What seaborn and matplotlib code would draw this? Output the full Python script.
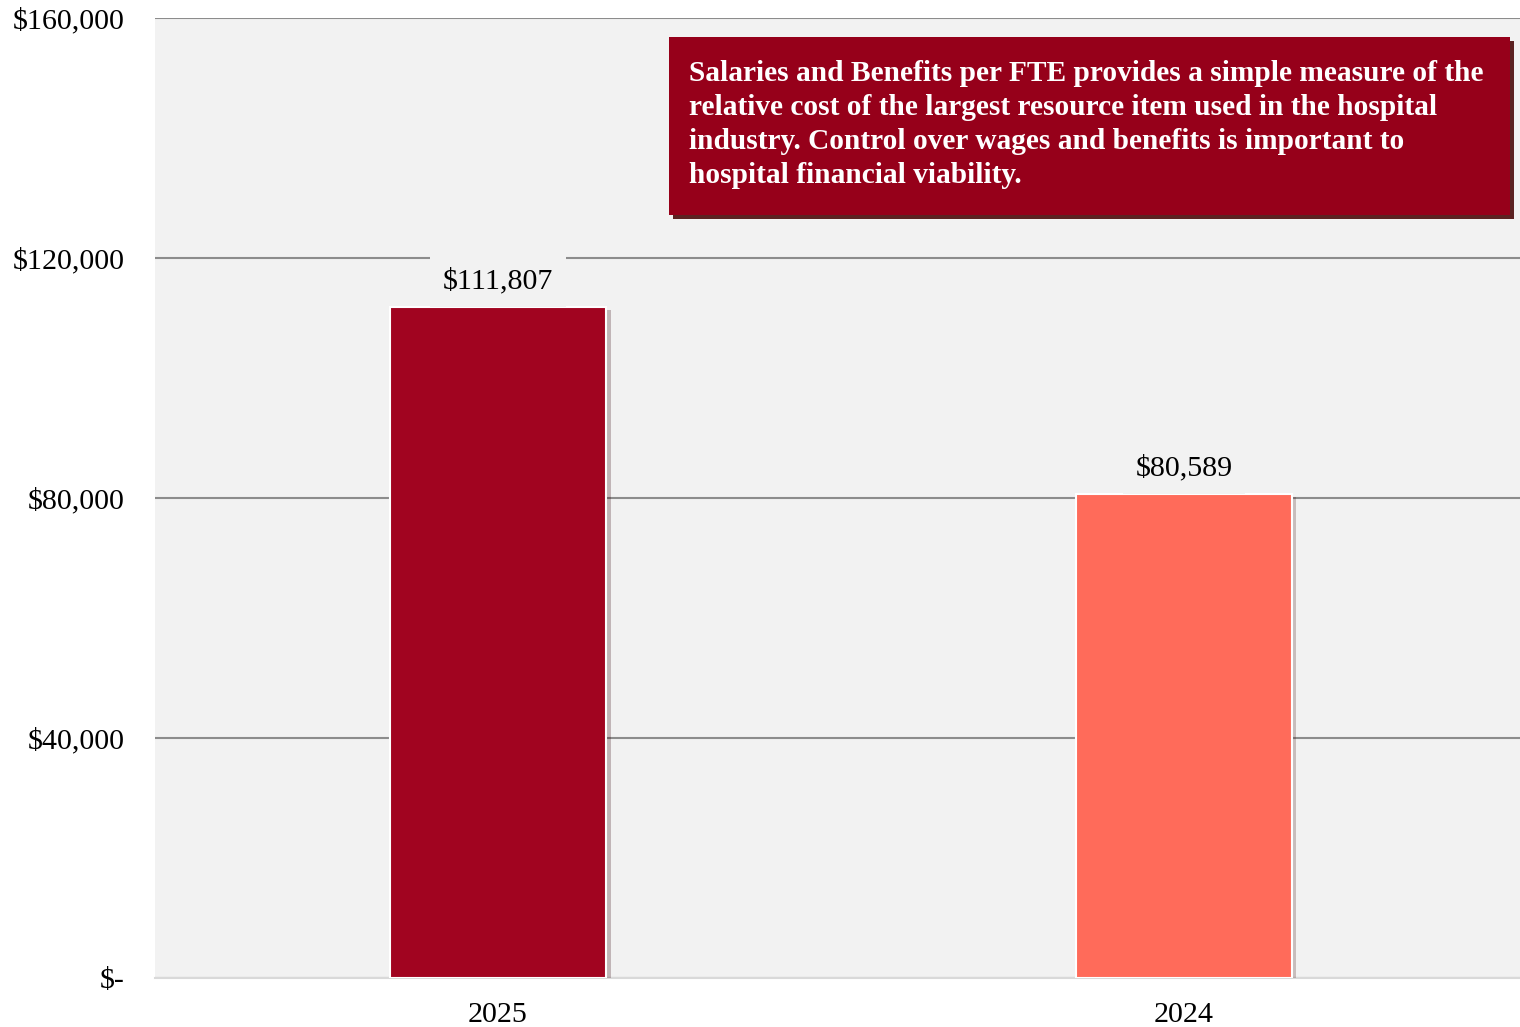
"""Salaries and benefits per FTE bar chart."""

import matplotlib

matplotlib.use("Agg")
import matplotlib.patheffects as pe
import matplotlib.pyplot as plt
import pandas as pd
import seaborn as sns
from matplotlib.patches import Rectangle
from matplotlib.ticker import FuncFormatter

years = ["2025", "2024"]
values = [111807, 80589]
bar_colors = ["#A10420", "#FF6B5A"]
y_ticks = [0, 40000, 80000, 120000, 160000]
note = (
    "Salaries and Benefits per FTE provides a simple measure of the\n"
    "relative cost of the largest resource item used in the hospital\n"
    "industry. Control over wages and benefits is important to\n"
    "hospital financial viability."
)

sns.set_theme(style="white")
plt.rcParams["font.family"] = ["Liberation Serif", "DejaVu Serif"]

df = pd.DataFrame({"year": years, "value": values})

fig = plt.figure(figsize=(15.2, 10.27), dpi=100)
ax = fig.add_axes([0.102, 0.0477, 0.898, 0.9348])
ax.set_facecolor("#F2F2F2")

sns.barplot(data=df, x="year", y="value", hue="year", palette=bar_colors,
            saturation=1, width=0.316, legend=False, ax=ax, zorder=3,
            edgecolor="white", linewidth=1.5)
for patch in ax.patches:
    patch.set_path_effects([pe.SimplePatchShadow(offset=(3, -2), alpha=0.25), pe.Normal()])

ax.set_ylim(0, 160000)
ax.set_xlim(-0.5, 1.49)
ax.set_yticks(y_ticks)
ax.yaxis.set_major_formatter(FuncFormatter(lambda v, _: "$-" if v == 0 else f"${v:,.0f}"))
ax.grid(axis="y", color="#8C8C8C", linewidth=1.5, zorder=0)
ax.set_axisbelow(True)
ax.tick_params(axis="y", length=0, pad=22, labelsize=21.6, labelcolor="black")
ax.tick_params(axis="x", length=0, pad=17, labelsize=21.6, labelcolor="black")
ax.set_xlabel("")
ax.set_ylabel("")
for side in ["top", "right", "left"]:
    ax.spines[side].set_visible(False)
ax.spines["bottom"].set_color("#D9D9D9")
ax.spines["bottom"].set_linewidth(1.5)

for i, v in enumerate(values):
    ax.text(i, v + 2200, f"${v:,.0f}", ha="center", va="bottom", fontsize=21.6,
            color="black", zorder=4,
            bbox=dict(boxstyle="square,pad=0.42", facecolor="#F2F2F2", edgecolor="none"))

box = Rectangle((0.3766, 0.7948), 0.6161, 0.1854, transform=ax.transAxes,
                facecolor="#96001A", edgecolor="none", zorder=5)
box.set_path_effects([pe.SimplePatchShadow(offset=(3, -3), shadow_rgbFace="#5C2222", alpha=1), pe.Normal()])
ax.add_patch(box)
ax.text(0.3912, 0.956, note, transform=ax.transAxes, ha="left", va="top",
        fontsize=21.2, fontweight="bold", color="white", linespacing=1.33, zorder=6)

fig.savefig("out.png", dpi=100)
